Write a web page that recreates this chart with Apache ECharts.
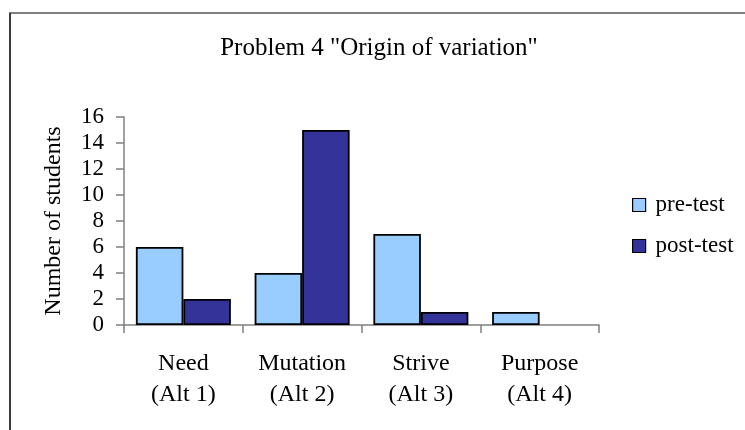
<!DOCTYPE html>
<html>
<head>
<meta charset="utf-8">
<script src="https://cdn.jsdelivr.net/npm/echarts@6/dist/echarts.min.js"></script>
<style>
  html, body { margin: 0; padding: 0; background: #fff; }
  #chart { width: 745px; height: 430px; }
</style>
</head>
<body>
<div id="chart"></div>
<script>
const categories = ['Need\n(Alt 1)', 'Mutation\n(Alt 2)', 'Strive\n(Alt 3)', 'Purpose\n(Alt 4)']
const preTest = [6, 4, 7, 1]
const postTest = [2, 15, 1, 0]
const yTicks = { min: 0, max: 16, interval: 2 }

const serif = '"Liberation Serif", "Times New Roman", serif'

// a zero-height bar in the original has no outline at all
function barData(values) {
  return values.map(v => (v === 0 ? { value: v, itemStyle: { borderWidth: 0 } } : v))
}

const chart = echarts.init(document.getElementById('chart'))

chart.setOption({
  animation: false,
  textStyle: { fontFamily: serif, color: '#000' },
  graphic: [
    {
      type: 'line',
      shape: { x1: 9, y1: 13, x2: 760, y2: 13 },
      style: { stroke: '#000', lineWidth: 1.2 },
      silent: true
    },
    {
      type: 'line',
      shape: { x1: 10, y1: 13, x2: 10, y2: 440 },
      style: { stroke: '#3a3a3a', lineWidth: 2 },
      silent: true
    }
  ],
  title: {
    text: 'Problem 4 "Origin of variation"',
    left: 379,
    top: 36,
    textAlign: 'center',
    padding: 0,
    textStyle: { fontFamily: serif, fontWeight: 'normal', fontSize: 25, color: '#000' }
  },
  legend: {
    orient: 'vertical',
    left: 632,
    top: 193,
    padding: 0,
    icon: 'rect',
    itemWidth: 13,
    itemHeight: 13,
    itemGap: 17,
    textStyle: { fontFamily: serif, fontSize: 23, lineHeight: 24, color: '#000', padding: [0, 0, 0, 5] },
    data: [
      { name: 'pre-test', itemStyle: { borderColor: '#000', borderWidth: 1.2 } },
      { name: 'post-test', itemStyle: { borderColor: '#000', borderWidth: 1.2 } }
    ]
  },
  grid: {
    left: 124,
    right: 146,
    top: 117,
    bottom: 105,
    containLabel: false
  },
  xAxis: {
    type: 'category',
    data: categories,
    axisLine: { lineStyle: { color: '#808080', width: 1.5 } },
    axisTick: { show: true, length: 8, lineStyle: { color: '#808080', width: 1.5 } },
    axisLabel: {
      interval: 0,
      margin: 23,
      fontFamily: serif,
      fontSize: 24,
      lineHeight: 31,
      color: '#000'
    }
  },
  yAxis: {
    type: 'value',
    min: yTicks.min,
    max: yTicks.max,
    interval: yTicks.interval,
    name: 'Number of students',
    nameLocation: 'middle',
    nameRotate: 90,
    nameGap: 58,
    nameTextStyle: { fontFamily: serif, fontSize: 24, color: '#000' },
    axisLine: { show: true, lineStyle: { color: '#808080', width: 1.5 } },
    axisTick: { show: true, length: 8, lineStyle: { color: '#808080', width: 1.5 } },
    axisLabel: { margin: 20, fontFamily: serif, fontSize: 23, color: '#000' },
    splitLine: { show: false }
  },
  series: [
    {
      name: 'pre-test',
      type: 'bar',
      data: barData(preTest),
      barGap: 0,
      barCategoryGap: '20%',
      itemStyle: { color: '#99CCFF', borderColor: '#000', borderWidth: 1.8 }
    },
    {
      name: 'post-test',
      type: 'bar',
      data: barData(postTest),
      barGap: 0,
      barCategoryGap: '20%',
      itemStyle: { color: '#333399', borderColor: '#000', borderWidth: 1.8 }
    }
  ]
})
</script>
</body>
</html>
